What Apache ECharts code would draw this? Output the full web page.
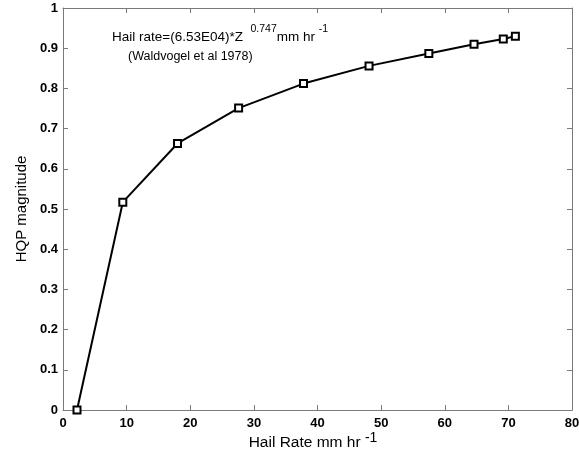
<!DOCTYPE html>
<html><head><meta charset="utf-8">
<script src="https://cdn.jsdelivr.net/npm/echarts@6/dist/echarts.min.js"></script>
<style>html,body{margin:0;padding:0;background:#fff}#c{width:579px;height:450px}</style>
</head><body><div id="c"></div>
<script>
const hailRate = [2.2, 9.4, 18.0, 27.6, 37.8, 48.1, 57.5, 64.6, 69.2, 71.1];
const hqp = [0.0, 0.517, 0.663, 0.751, 0.812, 0.856, 0.887, 0.910, 0.923, 0.930];
const xTicks = [0, 10, 20, 30, 40, 50, 60, 70, 80];
const yTicks = [0, 0.1, 0.2, 0.3, 0.4, 0.5, 0.6, 0.7, 0.8, 0.9, 1];

const FONT = 'Liberation Sans, Arial, sans-serif';
const axisGray = '#7a7a7a';
const chart = echarts.init(document.getElementById('c'), null, {renderer: 'canvas'});
function baseAxis() {
  return {
    axisLine: {show: true, onZero: false, lineStyle: {color: axisGray, width: 1}},
    axisTick: {show: true, inside: true, length: 5, lineStyle: {color: axisGray}},
    splitLine: {show: false}
  };
}
chart.setOption({
  animation: false,
  backgroundColor: '#fff',
  grid: {left: 63, right: 7, top: 8, bottom: 40, containLabel: false, outerBoundsMode: 'none'},
  xAxis: [
    Object.assign(baseAxis(), {
      type: 'value', min: xTicks[0], max: xTicks[xTicks.length - 1], interval: 10,
      axisLabel: {color: '#000', fontFamily: FONT, fontWeight: 'bold', fontSize: 13, margin: 7}
    }),
    Object.assign(baseAxis(), {
      type: 'value', position: 'top', min: 0, max: 80, interval: 10,
      axisLabel: {show: false}
    })
  ],
  yAxis: [
    Object.assign(baseAxis(), {
      type: 'value', min: yTicks[0], max: yTicks[yTicks.length - 1], interval: 0.1,
      axisLabel: {color: '#000', fontFamily: FONT, fontWeight: 'bold', fontSize: 13, margin: 5},
      name: 'HQP magnitude', nameLocation: 'middle', nameGap: 34,
      nameTextStyle: {fontFamily: FONT, fontSize: 15, color: '#000'}
    }),
    Object.assign(baseAxis(), {
      type: 'value', position: 'right', min: 0, max: 1, interval: 0.1,
      axisLabel: {show: false}
    })
  ],
  series: [{
    type: 'line',
    data: hailRate.map((x, i) => [x, hqp[i]]),
    lineStyle: {color: '#000', width: 2},
    symbol: 'rect', symbolSize: 7,
    itemStyle: {color: '#fff', borderColor: '#000', borderWidth: 2},
    z: 3
  }],
  graphic: [
    {type: 'text', left: 112, top: 24, style: {
      text: '{a|Hail rate=(6.53E04)*Z  }{b|0.747}{a|mm hr }{b|-1}',
      rich: {
        a: {fontFamily: FONT, fontSize: 13.5, fill: '#000'},
        b: {fontFamily: FONT, fontSize: 10.5, fill: '#000', padding: [0, 0, 16, 0]}
      }
    }},
    {type: 'text', left: 128, top: 50, style: {
      text: '(Waldvogel et al 1978)', fontFamily: FONT, fontSize: 12.5, fill: '#000'
    }},
    {type: 'text', x: 313, y: 443, style: {
      text: '{a|Hail Rate mm hr }{b|-1}', align: 'center', verticalAlign: 'middle',
      rich: {
        a: {fontFamily: FONT, fontSize: 15.5, fill: '#000'},
        b: {fontFamily: FONT, fontSize: 14, fill: '#000', padding: [0, 0, 10, 0]}
      }
    }}
  ]
});
</script></body></html>
